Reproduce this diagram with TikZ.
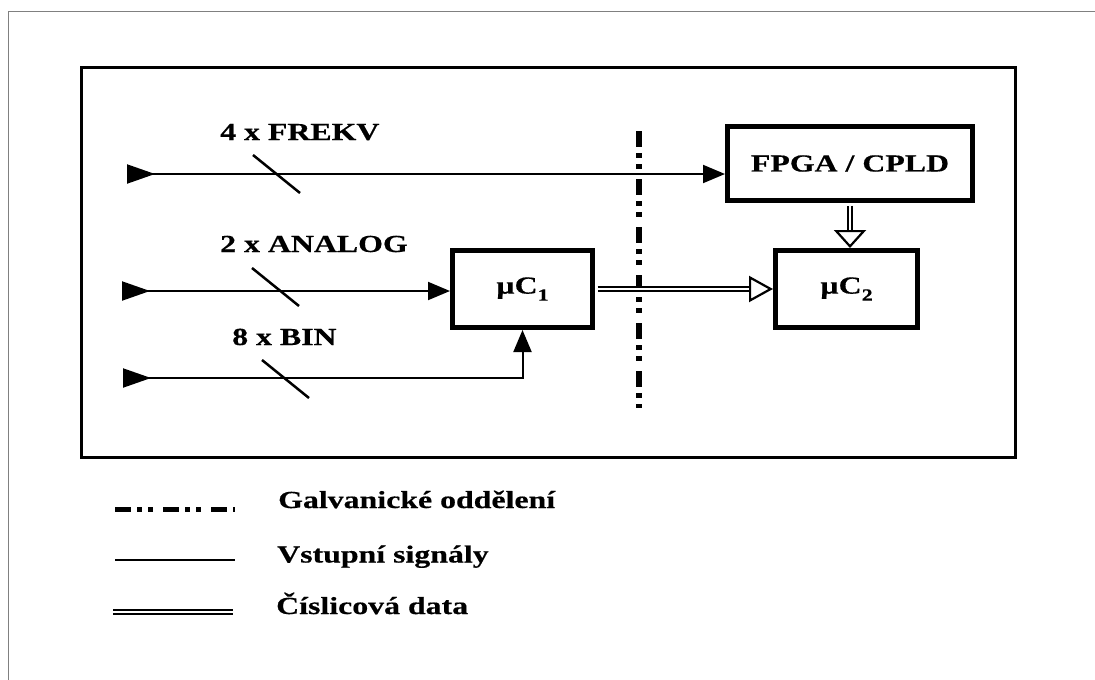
\documentclass[tikz,border=0pt]{standalone}
\usepackage{fontspec}
\setmainfont{Liberation Serif}[FakeStretch=1.3, BoldFeatures={FakeBold=0.5}]
\usetikzlibrary{arrows.meta, positioning, calc}

\newcommand{\lowsub}[1]{\raisebox{-7pt}{\fontsize{17}{17}\selectfont #1}}

\begin{document}
\begin{tikzpicture}[
      x=1pt, y=-1pt,
      font=\fontsize{24.5}{28}\selectfont\bfseries,
      blk/.style={rectangle, draw, line width=5pt, align=center, inner sep=0pt},
      lbl/.style={anchor=base west, inner sep=0pt},
      sig/.style={line width=2pt, {Triangle[reversed, length=28pt, width=19pt]}-{Triangle[length=22pt, width=18pt]}},
      dbl/.style={double, double distance=2.5pt, line width=2.2pt},
      otip/.style={line width=2.2pt, -{Triangle[open, length=24pt, width=26pt]}},
      galv/.style={line width=6pt, dash pattern=on 16pt off 6pt on 5pt off 6pt on 5pt off 10pt},
      slash/.style={line width=2.5pt}
    ]
    \useasboundingbox (0,0) rectangle (1095,680);
    \draw[gray, line width=1pt] (8,680) -- (8,11) -- (1095,11);
    \draw[line width=3pt] (81,67) rectangle (1015,457);

    % blocks
    \node[blk, minimum width=245pt, minimum height=74pt] (fpga) at (850,163.5) {FPGA / CPLD};
    \node[blk, minimum width=140pt, minimum height=77pt] (mc1) at (522.5,289) {µC\lowsub{1}};
    \node[blk, minimum width=142pt, minimum height=77pt] (mc2) at (846.5,289) {µC\lowsub{2}};

    % galvanic isolation
    \coordinate (gtop) at (639,131);
    \coordinate (gbot) at (639,408);
    \draw[galv] (gtop) -- (gbot);

    % input signals
    \coordinate (frekv) at (127,174);
    \coordinate (analog) at (122,291);
    \coordinate (bin) at (123,378);
    \draw[sig] (frekv) -- (frekv -| fpga.west);
    \draw[sig] (analog) -- (analog -| mc1.west);
    \draw[sig] (bin) -| (mc1.south);
    \foreach \x/\y in {253/155, 252/268, 262/360}
      \draw[slash] (\x,\y) -- ++(47,38);

    \node[lbl] (lfrekv) at (220,140) {4 x FREKV};
    \node[lbl] (lanalog) at (220,252) {2 x ANALOG};
    \node[lbl] (lbin) at (232,345) {8 x BIN};

    % digital data
    \draw[dbl, shorten <=2.5pt, shorten >=24pt] (mc1.east) -- (mc2.west);
    \draw[otip] ([xshift=-24pt]mc2.west) -- (mc2.west);
    \coordinate (dtip) at (fpga.south |- mc2.north);
    \draw[dbl, shorten <=2.5pt, shorten >=18pt] (fpga.south) -- (dtip);
    \draw[line width=2.2pt, -{Triangle[open, length=18pt, width=32pt]}] ([yshift=18pt]dtip) -- (dtip);

    % legend
    \draw[galv, line width=5pt] (115,509) -- (235,509);
    \draw[line width=2.5pt] (115,560) -- (235,560);
    \draw[dbl] (113,612) -- (233,612);
    \node[lbl] (lgalv) at (278,508) {Galvanické oddělení};
    \node[lbl] (lsig) at (277,562.5) {Vstupní signály};
    \node[lbl] (ldata) at (276,614) {Číslicová data};
  \end{tikzpicture}
\end{document}
